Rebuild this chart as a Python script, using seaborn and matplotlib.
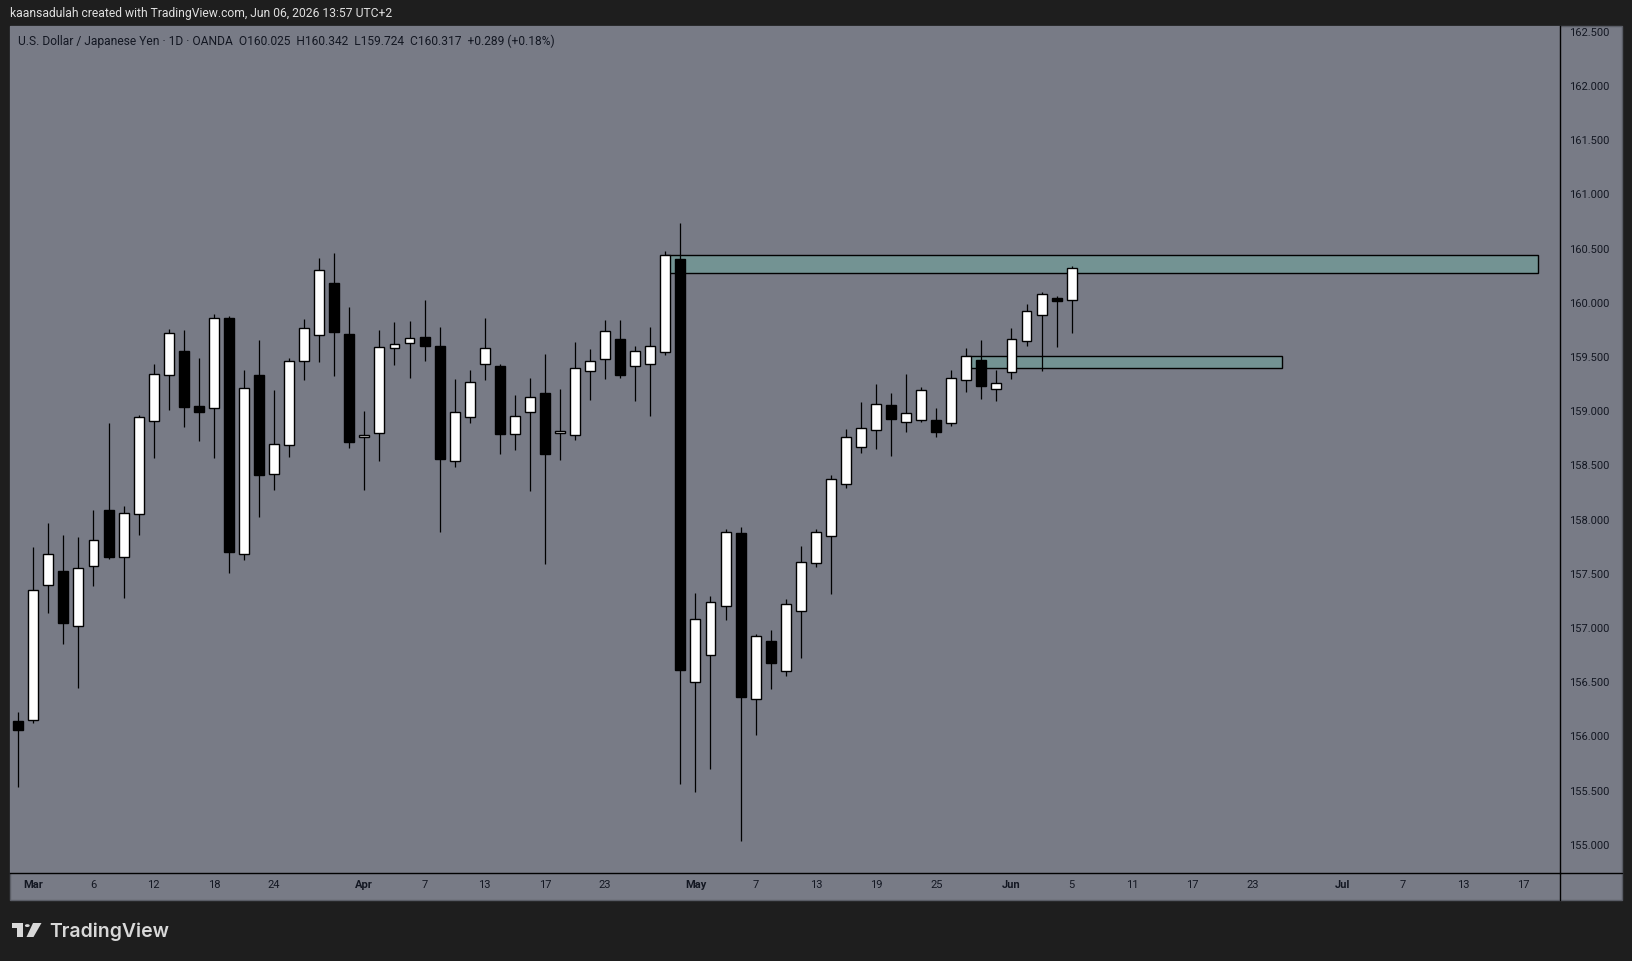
import numpy as np
import pandas as pd
import matplotlib
matplotlib.use("Agg")
import matplotlib.pyplot as plt
from matplotlib.patches import Rectangle, Polygon, Circle
from matplotlib.lines import Line2D
import seaborn as sns

# ---------------- data ----------------
START_DATE = "2026-02-27"
END_DATE = "2026-06-05"
AXIS_END_DATE = "2026-07-31"

OPEN = [156.140, 156.147, 157.394, 157.529, 157.018, 157.572, 158.090, 157.654, 158.054, 158.911,
        159.337, 159.558, 159.050, 159.033, 159.861, 157.684, 159.337, 158.420, 158.687, 159.466,
        159.703, 160.186, 159.715, 158.765, 158.801, 159.586, 159.632, 159.688, 159.604, 158.542,
        158.948, 159.438, 159.413, 158.791, 158.992, 159.170, 158.801, 158.782, 159.373, 159.484,
        159.669, 159.420, 159.438, 159.548, 160.407, 156.502, 156.751, 157.204, 157.876, 156.342,
        156.879, 156.605, 157.156, 157.598, 157.850, 158.332, 158.672, 158.825, 159.059, 158.902,
        158.920, 158.920, 158.891, 159.289, 159.475, 159.209, 159.366, 159.651, 159.884, 160.049,
        160.025]
HIGH = [156.226, 157.750, 157.965, 157.862, 157.843, 158.093, 158.895, 158.130, 158.967, 159.433,
        159.756, 159.746, 159.495, 159.901, 159.880, 159.383, 159.654, 159.192, 159.495, 159.848,
        160.412, 160.457, 159.965, 159.004, 159.746, 159.820, 159.829, 160.023, 159.774, 159.293,
        159.376, 159.857, 159.438, 159.146, 159.303, 159.524, 159.201, 159.635, 159.570, 159.838,
        159.838, 159.598, 159.780, 160.476, 160.740, 157.324, 157.299, 157.912, 157.930, 156.944,
        156.981, 157.266, 157.759, 157.912, 158.413, 158.836, 159.081, 159.249, 159.165, 159.340,
        159.227, 159.033, 159.377, 159.581, 159.654, 159.377, 159.764, 159.987, 160.100, 160.067,
        160.342]
LOW = [155.536, 156.124, 157.140, 156.856, 156.450, 157.384, 157.635, 157.275, 157.862, 158.568,
       159.010, 158.852, 158.723, 158.568, 157.506, 157.631, 158.021, 158.271, 158.575, 159.287,
       159.452, 159.324, 158.659, 158.271, 158.539, 159.426, 159.306, 159.463, 157.883, 158.484,
       158.890, 159.284, 158.604, 158.641, 158.262, 157.591, 158.548, 158.733, 159.102, 159.296,
       159.306, 159.093, 158.955, 159.519, 155.557, 155.483, 155.702, 157.072, 155.034, 156.013,
       156.433, 156.553, 156.722, 157.562, 157.310, 158.292, 158.613, 158.650, 158.584, 158.807,
       158.898, 158.760, 158.862, 159.176, 159.114, 159.096, 159.296, 159.603, 159.373, 159.592,
       159.724]
CLOSE = [156.055, 157.351, 157.684, 157.044, 157.556, 157.813, 157.651, 158.060, 158.948, 159.343,
         159.723, 159.037, 158.990, 159.861, 157.697, 159.215, 158.416, 158.700, 159.466, 159.772,
         160.307, 159.731, 158.715, 158.782, 159.595, 159.623, 159.678, 159.601, 158.557, 158.995,
         159.272, 159.586, 158.788, 158.958, 159.133, 158.604, 158.819, 159.401, 159.466, 159.743,
         159.333, 159.558, 159.604, 160.443, 156.612, 157.083, 157.240, 157.887, 156.360, 156.926,
         156.674, 157.222, 157.609, 157.887, 158.376, 158.763, 158.847, 159.070, 158.928, 158.986,
         159.198, 158.807, 159.307, 159.508, 159.231, 159.260, 159.669, 159.928, 160.085, 160.016,
         160.317]

TICK_DATES = ["2026-03-02", "2026-03-06", "2026-03-12", "2026-03-18", "2026-03-24",
              "2026-04-01", "2026-04-07", "2026-04-13", "2026-04-17", "2026-04-23",
              "2026-05-01", "2026-05-07", "2026-05-13", "2026-05-19", "2026-05-25",
              "2026-06-01", "2026-06-05", "2026-06-11", "2026-06-17", "2026-06-23",
              "2026-07-01", "2026-07-07", "2026-07-13", "2026-07-17"]
TICK_LABELS = ["Mar", "6", "12", "18", "24", "Apr", "7", "13", "17", "23",
               "May", "7", "13", "19", "25", "Jun", "5", "11", "17", "23",
               "Jul", "7", "13", "17"]
MONTH_LABELS = ["Mar", "Apr", "May", "Jun", "Jul"]

PRICE_TICKS = [155.0, 155.5, 156.0, 156.5, 157.0, 157.5, 158.0, 158.5,
               159.0, 159.5, 160.0, 160.5, 161.0, 161.5, 162.0, 162.5]

ZONE_START = ["2026-04-29", "2026-05-27"]
ZONE_BARS = [58.0, 21.0]
ZONE_TOP = [160.445, 159.512]
ZONE_BOTTOM = [160.279, 159.401]

HEADER = "kaansadulah created with TradingView.com, Jun 06, 2026 13:57 UTC+2"
LEGEND = ("U.S. Dollar / Japanese Yen · 1D · OANDA  O160.025  H160.342  "
          "L159.724  C160.317  +0.289 (+0.18%)")

# ---------------- style ----------------
sns.set_theme(style="white")
plt.rcParams["font.family"] = ["Roboto", "DejaVu Sans"]

W, H = 1632, 961
DARK = "#1e1e1e"
PANEL = "#787b86"
TXT = "#131722"


def fx(px):
    return px / W


def fy(py):
    return 1 - py / H


dates = pd.bdate_range(START_DATE, END_DATE)
axis_dates = pd.bdate_range(START_DATE, AXIS_END_DATE)
pos_of = {d.strftime("%Y-%m-%d"): i for i, d in enumerate(axis_dates)}
x = np.arange(len(dates))
o = np.array(OPEN); h = np.array(HIGH); l = np.array(LOW); c = np.array(CLOSE)

fig = plt.figure(figsize=(W / 100, H / 100), dpi=100, facecolor=DARK)

# gray panel behind chart, price scale and time scale
fig.add_artist(Rectangle((fx(10), fy(900)), fx(1622) - fx(10), fy(26) - fy(900),
                         transform=fig.transFigure, facecolor=PANEL,
                         edgecolor="#5a5d66", linewidth=1.0, zorder=0))

ax = fig.add_axes([fx(10), fy(873), fx(1560) - fx(10), fy(26) - fy(873)])
ax.set_facecolor(PANEL)

# zones (behind candles)
for s, nb, top, bot in zip(ZONE_START, ZONE_BARS, ZONE_TOP, ZONE_BOTTOM):
    x0 = pos_of[s]
    ax.add_patch(Rectangle((x0, bot), nb, top - bot, facecolor="#739393",
                           edgecolor="black", linewidth=1.0, zorder=1))

# wicks
ax.vlines(x, l, h, color="black", linewidth=0.9, zorder=2)
# bodies
up = c >= o
body_h = np.abs(c - o)
body_b = np.minimum(o, c)
ax.bar(x, body_h, bottom=body_b, width=0.66,
       color=np.where(up, "white", "black"), edgecolor="black",
       linewidth=1.0, zorder=3)

ax.set_xlim(-0.548, 102.45)
ax.set_ylim(154.74, 162.554)

# spines
for side in ["left", "top"]:
    ax.spines[side].set_visible(False)
for side in ["right", "bottom"]:
    ax.spines[side].set_visible(True)
    ax.spines[side].set_color("black")
    ax.spines[side].set_linewidth(1.0)

# price axis
ax.yaxis.tick_right()
ax.set_yticks(PRICE_TICKS)
ax.set_yticklabels([f"{p:.3f}" for p in PRICE_TICKS])
ax.tick_params(axis="y", length=0, pad=6.5, labelsize=8, labelcolor=TXT)

# time axis
ax.set_xticks([pos_of[d] for d in TICK_DATES])
ax.set_xticklabels(TICK_LABELS)
ax.tick_params(axis="x", length=0, pad=5, labelsize=8, labelcolor=TXT)
for lab in ax.get_xticklabels():
    if lab.get_text() in MONTH_LABELS:
        lab.set_fontweight("bold")
ax.grid(False)

# separators in the scale areas
fig.add_artist(Line2D([fx(1560), fx(1560)], [fy(873), fy(900)],
                      transform=fig.transFigure, color="black", linewidth=1.0))
fig.add_artist(Line2D([fx(1560), fx(1622)], [fy(873), fy(873)],
                      transform=fig.transFigure, color="black", linewidth=1.0))

# texts
fig.text(fx(10), fy(14), HEADER, color="#e0e0e0", fontsize=8.7,
         ha="left", va="center")
fig.text(fx(18), fy(41), LEGEND, color=TXT, fontsize=8.65,
         ha="left", va="center")

# TradingView logo
logo_col = "#d9d9d9"
fig.add_artist(Rectangle((fx(12), fy(928)), fx(22.7) - fx(12), fy(923) - fy(928),
                         transform=fig.transFigure, facecolor=logo_col, edgecolor="none"))
fig.add_artist(Rectangle((fx(17.3), fy(937)), fx(22.7) - fx(17.3), fy(923) - fy(937),
                         transform=fig.transFigure, facecolor=logo_col, edgecolor="none"))
fig.add_artist(Circle((fx(27.3), fy(925.6)), 2.4 / W, transform=fig.transFigure,
                      facecolor=logo_col, edgecolor="none"))
fig.add_artist(Polygon([(fx(33), fy(923)), (fx(41.5), fy(923)),
                        (fx(33.5), fy(937)), (fx(26.5), fy(937))],
                       closed=True, transform=fig.transFigure,
                       facecolor=logo_col, edgecolor="none"))
fig.text(fx(49), fy(937), "TradingView", color=logo_col, fontsize=14,
         fontweight="semibold", family=["Inter", "DejaVu Sans"],
         ha="left", va="baseline")

fig.savefig("out.png", dpi=100, facecolor=DARK)
